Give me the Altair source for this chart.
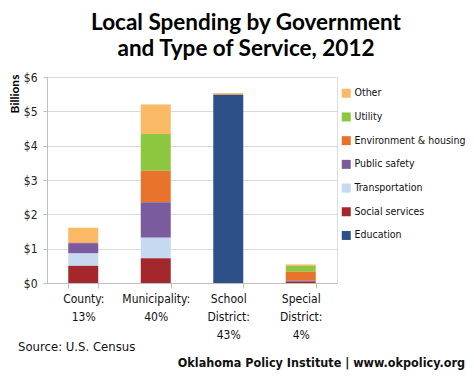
import altair as alt
import pandas as pd

# ---- data ----
govts = ["County:|13%", "Municipality:|40%", "School|District:|43%", "Special|District:|4%"]
services = ["Other", "Utility", "Environment & housing", "Public safety",
            "Transportation", "Social services", "Education"]
colors = ["#F9B965", "#8DC63F", "#E8732A", "#7A5C9E", "#C6D9F1", "#A3272B", "#2C5087"]
stack_rank = [6, 5, 4, 3, 2, 1, 0]

# values in $ billions, per government type, in services order
county = [0.43, 0.00, 0.02, 0.30, 0.36, 0.50, 0.00]
municipality = [0.86, 1.07, 0.92, 1.03, 0.60, 0.72, 0.00]
school = [0.05, 0.00, 0.00, 0.00, 0.00, 0.00, 5.48]
special = [0.04, 0.17, 0.26, 0.03, 0.00, 0.04, 0.00]

rows = []
for g, vals in zip(govts, [county, municipality, school, special]):
    for s, v, r in zip(services, vals, stack_rank):
        rows.append({"govt": g, "service": s, "value": v, "rank": r})
df = pd.DataFrame(rows)

FONT = "DejaVu Sans Condensed"

bars = alt.Chart(df).mark_bar(size=30).encode(
    x=alt.X("govt:N", sort=govts,
            scale=alt.Scale(paddingInner=0.586, paddingOuter=0.293),
            axis=alt.Axis(title=None, labelAngle=0,
                          labelExpr="split(datum.label, '|')",
                          labelLineHeight=18, labelFontSize=12,
                          labelFont=FONT, labelColor="#111",
                          labelPadding=5, labelBaseline="top",
                          tickBand="extent", tickSize=5, tickColor="#bfbfbf",
                          domainColor="#bfbfbf", grid=False)),
    y=alt.Y("sum(value):Q",
            scale=alt.Scale(domain=[0, 6]),
            axis=alt.Axis(title=None, values=[0, 1, 2, 3, 4, 5, 6],
                          labelExpr="'$' + datum.value",
                          labelFontSize=12, labelFont=FONT, labelColor="#222",
                          labelPadding=6, tickSize=4, tickColor="#bfbfbf",
                          domainColor="#bfbfbf", gridColor="#d9d9d9")),
    color=alt.Color("service:N",
                    scale=alt.Scale(domain=services, range=colors),
                    legend=alt.Legend(title=None, orient="none",
                                      legendX=294, legendY=11,
                                      symbolType="square", symbolSize=81,
                                      symbolStrokeWidth=0, symbolOpacity=1,
                                      labelFont=FONT, labelFontSize=10.5,
                                      labelColor="#111", labelOffset=3,
                                      rowPadding=12.7, labelLimit=200)),
    order=alt.Order("rank:Q", sort="ascending"),
)

title_df = pd.DataFrame({"t": ["Local Spending by Government\nand Type of Service, 2012"]})
title = alt.Chart(title_df).mark_text(
    font="Lato", fontWeight="bold", fontSize=22.5, lineBreak="\n", lineHeight=26,
    align="center", baseline="alphabetic", color="#000"
).encode(text="t:N", x=alt.value(199), y=alt.value(-47))

ylab = alt.Chart(pd.DataFrame({"t": ["Billions"]})).mark_text(
    font="Lato", fontWeight="bold", fontSize=12, angle=270,
    align="center", baseline="middle", color="#000"
).encode(text="t:N", x=alt.value(-32), y=alt.value(17))

source = alt.Chart(pd.DataFrame({"t": ["Source: U.S. Census"]})).mark_text(
    font=FONT, fontSize=13, align="left", baseline="alphabetic", color="#111"
).encode(text="t:N", x=alt.value(-29), y=alt.value(274))

footer = alt.Chart(pd.DataFrame({"t": ["Oklahoma Policy Institute | www.okpolicy.org"]})).mark_text(
    font=FONT, fontSize=12.5, fontWeight="bold", align="right",
    baseline="alphabetic", color="#111"
).encode(text="t:N", x=alt.value(418), y=alt.value(290))

chart = alt.layer(bars, title, ylab, source, footer).properties(
    width=290, height=206,
    autosize=alt.AutoSizeParams(type="none"),
    padding={"left": 39, "top": 69, "right": 129, "bottom": 88},
).configure_view(stroke=None).configure(background="white")

chart.save("out.html", embed_options={"renderer": "svg", "actions": False})
